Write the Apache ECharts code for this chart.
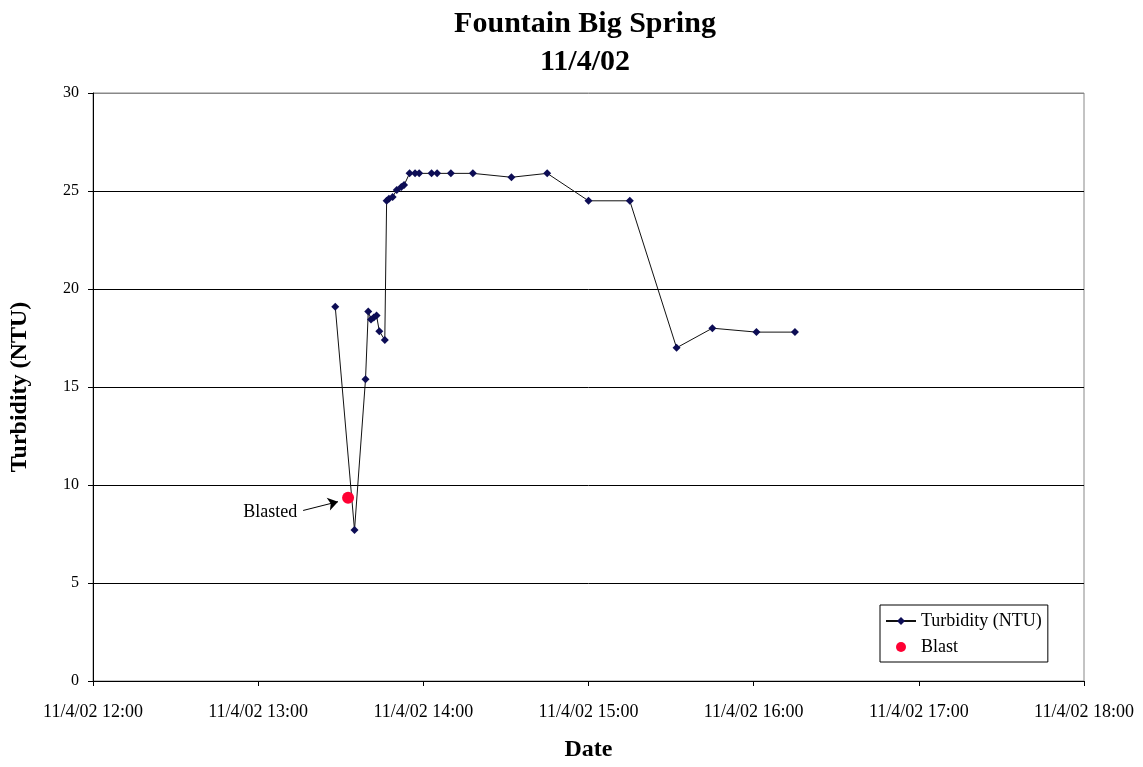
<!DOCTYPE html>
<html><head><meta charset="utf-8">
<script src="https://cdn.jsdelivr.net/npm/echarts@6/dist/echarts.min.js"></script>
<style>html,body{margin:0;padding:0;background:#fff}#c{width:1143px;height:767px}</style>
</head><body><div id="c"></div>
<script>
// Data (times on 11/4/02)
const turbTimes = ['13:28','13:35','13:39','13:40','13:41','13:42','13:43','13:44','13:46','13:46:40','13:47:30','13:48:50','13:50:20','13:52','13:53','13:55','13:57','13:58:30','14:03','14:05','14:10','14:18','14:32','14:45','15:00','15:15','15:32','15:45','16:01','16:15'];
const turbValues = [19.1, 7.7, 15.4, 18.85, 18.45, 18.55, 18.65, 17.85, 17.4, 24.5, 24.6, 24.7, 25.05, 25.2, 25.3, 25.9, 25.9, 25.9, 25.9, 25.9, 25.9, 25.9, 25.7, 25.9, 24.5, 24.5, 17.0, 18.0, 17.8, 17.8];
const blastTimes = ['13:32:40'];
const blastValues = [9.35];
const annotation = {text: 'Blasted', from: ['13:16:20', 8.7], to: ['13:29', 9.15]};
const xTickHours = [12, 13, 14, 15, 16, 17, 18];
const yTicks = [0, 5, 10, 15, 20, 25, 30];
const datePrefix = '11/4/02';

function toHours(t) {
  const p = t.split(':').map(Number);
  return p[0] + (p[1] || 0) / 60 + (p[2] || 0) / 3600;
}
const serif = '"Liberation Serif","Times New Roman",serif';

const chart = echarts.init(document.getElementById('c'));
chart.setOption({
  animation: false,
  backgroundColor: '#fff',
  textStyle: {fontFamily: serif},
  graphic: [
    {type: 'text', x: 585, y: 24, style: {text: 'Fountain Big Spring', font: 'bold 30px ' + serif, fill: '#000', align: 'center', verticalAlign: 'middle'}},
    {type: 'text', x: 585, y: 62, style: {text: '11/4/02', font: 'bold 30px ' + serif, fill: '#000', align: 'center', verticalAlign: 'middle'}}
  ],
  grid: {left: 93, right: 59, top: 93, bottom: 84, show: true, borderColor: '#888', borderWidth: 1, backgroundColor: '#fff'},
  legend: {
    left: 880, top: 605, orient: 'vertical',
    borderColor: '#000', borderWidth: 1, padding: [7, 6, 6, 5], itemGap: 8,
    itemWidth: 30, itemHeight: 10,
    textStyle: {fontFamily: serif, fontSize: 18, color: '#000'},
    data: [
      {name: 'Turbidity (NTU)'},
      {name: 'Blast', icon: 'circle', itemStyle: {color: '#ff0033', opacity: 1}}
    ]
  },
  xAxis: {
    type: 'value', min: xTickHours[0], max: xTickHours[xTickHours.length - 1], interval: 1,
    name: 'Date', nameLocation: 'middle', nameGap: 57,
    nameTextStyle: {fontFamily: serif, fontSize: 24, fontWeight: 'bold', color: '#000'},
    axisLine: {show: true, lineStyle: {color: '#000', width: 1}},
    axisTick: {show: true, length: 5, lineStyle: {color: '#000'}},
    axisLabel: {margin: 22, fontFamily: serif, fontSize: 18, color: '#000',
      formatter: v => datePrefix + ' ' + v + ':00'},
    splitLine: {show: false}
  },
  yAxis: {
    type: 'value', min: yTicks[0], max: yTicks[yTicks.length - 1], interval: 5,
    name: 'Turbidity (NTU)', nameLocation: 'middle', nameGap: 61, nameRotate: 90,
    nameTextStyle: {fontFamily: serif, fontSize: 24, fontWeight: 'bold', color: '#000'},
    axisLine: {show: true, lineStyle: {color: '#000', width: 1}},
    axisTick: {show: true, length: 5, lineStyle: {color: '#000'}},
    axisLabel: {margin: 14, fontFamily: serif, fontSize: 16, color: '#000'},
    splitLine: {show: true, lineStyle: {color: ['#000', '#000', '#000', '#000', '#000', '#000', '#888'], width: 1}}
  },
  series: [
    {
      name: 'Turbidity (NTU)', type: 'line',
      data: turbTimes.map((t, i) => [toHours(t), turbValues[i]]),
      symbol: 'diamond', symbolSize: 8,
      lineStyle: {color: '#111', width: 1},
      itemStyle: {color: '#0d0d55', borderWidth: 0},
      z: 3
    },
    {
      name: 'Blast', type: 'scatter',
      data: blastTimes.map((t, i) => [toHours(t), blastValues[i]]),
      symbol: 'circle', symbolSize: 12,
      itemStyle: {color: '#ff0033', opacity: 1},
      z: 4,
      markLine: {
        silent: true, animation: false,
        symbol: ['none', 'arrow'], symbolSize: 10,
        lineStyle: {color: '#000', width: 1, type: 'solid', opacity: 1},
        itemStyle: {color: '#000'},
        label: {show: true, position: 'start', formatter: annotation.text, fontFamily: serif, fontSize: 18, color: '#000', distance: 6},
        data: [[
          {coord: [toHours(annotation.from[0]), annotation.from[1]]},
          {coord: [toHours(annotation.to[0]), annotation.to[1]]}
        ]]
      }
    }
  ]
});
</script></body></html>
